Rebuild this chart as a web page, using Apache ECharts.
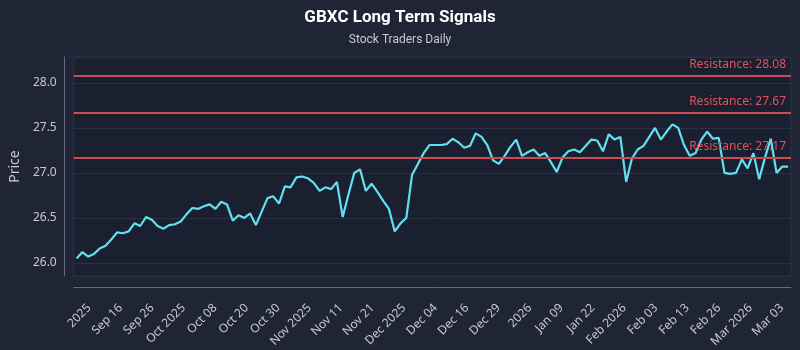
<!DOCTYPE html>
<html>
<head>
<meta charset="utf-8">
<script src="https://cdn.jsdelivr.net/npm/echarts@6/dist/echarts.min.js"></script>
<style>html,body{margin:0;padding:0;background:#1f2535;}#chart{width:800px;height:350px;}</style>
</head>
<body>
<div id="chart"></div>
<script>
// ---- data ----
var values = [
  26.05, 26.12, 26.07, 26.10, 26.16, 26.19, 26.26, 26.34, 26.33, 26.35,
  26.44, 26.41, 26.51, 26.48, 26.41, 26.38, 26.42, 26.43, 26.46, 26.54,
  26.61, 26.60, 26.63, 26.65, 26.60, 26.68, 26.65, 26.47, 26.53, 26.50,
  26.55, 26.42, 26.57, 26.72, 26.74, 26.66, 26.85, 26.84, 26.95, 26.96,
  26.94, 26.89, 26.80, 26.84, 26.82, 26.90, 26.51, 26.76, 27.00, 27.04,
  26.80, 26.88, 26.79, 26.69, 26.60, 26.35, 26.44, 26.50, 26.98, 27.10,
  27.22, 27.31, 27.31, 27.31, 27.32, 27.38, 27.34, 27.28, 27.30, 27.44,
  27.40, 27.31, 27.14, 27.10, 27.19, 27.29, 27.37, 27.19, 27.23, 27.26,
  27.19, 27.22, 27.12, 27.01, 27.17, 27.24, 27.26, 27.23, 27.30, 27.37,
  27.36, 27.24, 27.43, 27.37, 27.40, 26.90, 27.16, 27.26, 27.30, 27.40,
  27.50, 27.37, 27.46, 27.54, 27.50, 27.31, 27.19, 27.22, 27.37, 27.46,
  27.38, 27.39, 27.00, 26.99, 27.00, 27.15, 27.05, 27.22, 26.93, 27.17,
  27.38, 27.00, 27.07, 27.07
];
var resistanceLevels = [28.08, 27.67, 27.17];
var tickLabels = ['2025', 'Sep 16', 'Sep 26', 'Oct 2025', 'Oct 08', 'Oct 20', 'Oct 30',
  'Nov 2025', 'Nov 11', 'Nov 21', 'Dec 2025', 'Dec 04', 'Dec 16', 'Dec 29', '2026',
  'Jan 09', 'Jan 22', 'Feb 2026', 'Feb 03', 'Feb 13', 'Feb 26', 'Mar 2026', 'Mar 03'];

// trading-day categories ending Mar 03 2026
var categories = [];
(function () {
  var d = new Date(Date.UTC(2026, 2, 3));
  var list = [];
  while (list.length < values.length) {
    var wd = d.getUTCDay();
    if (wd !== 0 && wd !== 6) list.push(d.toISOString().slice(0, 10));
    d = new Date(d.getTime() - 86400000);
  }
  categories = list.reverse();
})();

var txt = '#c6cad3';
var chart = echarts.init(document.getElementById('chart'), null, {renderer: 'canvas'});
chart.setOption({
  backgroundColor: '#1f2535',
  textStyle: {fontFamily: 'Noto Sans'},
  title: {
    text: 'GBXC Long Term Signals',
    subtext: 'Stock Traders Daily',
    left: 'center',
    top: 4,
    itemGap: 8,
    textStyle: {color: '#ffffff', fontSize: 17, fontWeight: 'bold', fontFamily: 'Roboto'},
    subtextStyle: {color: txt, fontSize: 12, fontFamily: 'Roboto'}
  },
  grid: {
    left: 70, right: 9, top: 57, bottom: 65,
    show: true, backgroundColor: '#1b2030', borderColor: '#2c3345', borderWidth: 1
  },
  xAxis: [
    {
      type: 'category', data: categories, boundaryGap: true,
      axisLine: {show: false, onZero: false}, axisTick: {show: false},
      axisLabel: {show: false}, splitLine: {show: false}
    },
    {
      type: 'value', position: 'bottom', offset: 11,
      min: -0.49, max: 22.29, minInterval: 1, maxInterval: 1,
      axisLine: {show: true, onZero: false, lineStyle: {color: '#636b80', width: 1}},
      axisTick: {show: false}, splitLine: {show: false},
      axisLabel: {
        rotate: 45, margin: 19, color: txt, fontSize: 12,
        showMinLabel: false, showMaxLabel: false,
        formatter: function (v) {
          var r = Math.round(v);
          return Math.abs(v - r) < 1e-6 && tickLabels[r] !== undefined ? tickLabels[r] : '';
        }
      }
    }
  ],
  yAxis: {
    type: 'value', min: 25.854, max: 28.288, minInterval: 0.5, maxInterval: 0.5,
    offset: 9,
    name: 'Price', nameLocation: 'middle', nameGap: 40,
    nameTextStyle: {color: txt, fontSize: 14},
    axisLine: {show: true, onZero: false, lineStyle: {color: '#636b80'}},
    axisTick: {show: false},
    splitLine: {show: true, lineStyle: {color: '#2a3143'}},
    axisLabel: {
      color: txt, fontSize: 12, showMinLabel: false, showMaxLabel: false,
      formatter: function (v) { return v.toFixed(1); }
    }
  },
  series: [{
    type: 'line', data: values, xAxisIndex: 0,
    symbol: 'none', showSymbol: false,
    lineStyle: {color: '#62e0ef', width: 2.2},
    markLine: {
      silent: true, symbol: ['none', 'none'],
      lineStyle: {color: '#cc4b57', width: 2, type: 'solid'},
      label: {
        position: 'insideEndTop', color: '#e0525e', fontSize: 12,
        formatter: function (p) { return 'Resistance: ' + Number(p.value).toFixed(2); }
      },
      data: resistanceLevels.map(function (v) { return {yAxis: v}; })
    }
  }]
});
</script>
</body>
</html>
